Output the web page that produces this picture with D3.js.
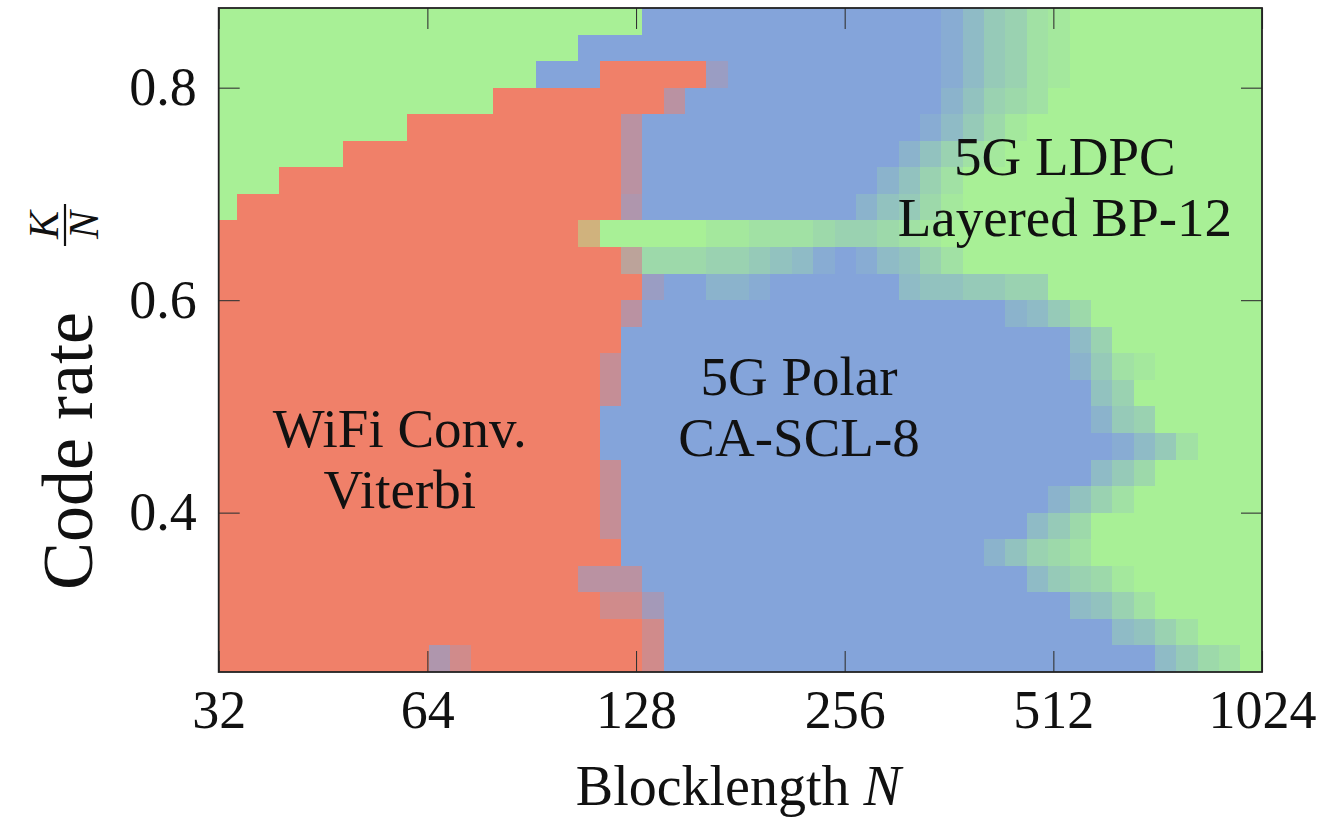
<!DOCTYPE html>
<html>
<head>
<meta charset="utf-8">
<script src="https://cdn.jsdelivr.net/npm/d3@7"></script>
<style>
  body { margin: 0; background: #ffffff; }
  text { font-family: "Liberation Serif", "Times New Roman", serif; fill: #111; }
</style>
</head>
<body>
<svg id="chart" width="1322" height="817"></svg>
<script>
// Blocklength N at the centre of each heatmap column (log-spaced)
const blocklengths = [
  32.8, 35.2, 37.7, 40.5, 43.5, 46.7, 50.1, 53.8, 57.8, 62.0,
  66.6, 71.5, 76.8, 82.4, 88.5, 95.0, 101.9, 109.4, 117.5, 126.1,
  135.4, 145.4, 156.1, 167.5, 179.9, 193.1, 207.3, 222.5, 238.9, 256.5,
  275.3, 295.6, 317.3, 340.7, 365.7, 392.6, 421.5, 452.5, 485.8, 521.5,
  559.8, 601.0, 645.2, 692.7, 743.6, 798.3, 857.0, 920.1, 987.7
];

// Code rate K/N at the centre of each heatmap row (top to bottom)
const codeRates = [
  0.8625, 0.8375, 0.8125, 0.7875, 0.7625, 0.7375, 0.7125, 0.6875, 0.6625,
  0.6375, 0.6125, 0.5875, 0.5625, 0.5375, 0.5125, 0.4875, 0.4625, 0.4375,
  0.4125, 0.3875, 0.3625, 0.3375, 0.3125, 0.2875, 0.2625
];

// Best decoder per (rate, blocklength) cell.
// R = WiFi Conv. Viterbi, B = 5G Polar CA-SCL-8, G = 5G LDPC Layered BP-12
// 1..9 = Polar/LDPC mixture (tenths of LDPC), a..i = Viterbi/Polar mixture (tenths of Polar)
// x = Viterbi/LDPC mixture, y = three-way mixture
const bestDecoder = [
  "GGGGGGGGGGGGGGGGGGGGBBBBBBBBBBBBBB135689GGGGGGGGG",
  "GGGGGGGGGGGGGGGGGBBBBBBBBBBBBBBBBB135689GGGGGGGGG",
  "GGGGGGGGGGGGGGGBBBRRRRRhBBBBBBBBBB135689GGGGGGGGG",
  "GGGGGGGGGGGGGRRRRRRRReBBBBBBBBBBBB24678GGGGGGGGGG",
  "GGGGGGGGGRRRRRRRRRReBBBBBBBBBBBBB13579GGGGGGGGGGG",
  "GGGGGGRRRRRRRRRRRRReBBBBBBBBBBBB24689GGGGGGGGGGGG",
  "GGGRRRRRRRRRRRRRRRReBBBBBBBBBBB2468GGGGGGGGGGGGGG",
  "GRRRRRRRRRRRRRRRRRRfBBBBBBBBBB24579GGGGGGGGGGGGGG",
  "RRRRRRRRRRRRRRRRRxGGGGG99888766789GGGGGGGGGGGGGGG",
  "RRRRRRRRRRRRRRRRRRRy777665431B13468GGGGGGGGGGGGGG",
  "RRRRRRRRRRRRRRRRRRRRhBB221BBBBBB3445566GGGGGGGGGG",
  "RRRRRRRRRRRRRRRRRRReBBBBBBBBBBBBBBBBB2357GGGGGGGG",
  "RRRRRRRRRRRRRRRRRRRBBBBBBBBBBBBBBBBBBBBB36GGGGGGG",
  "RRRRRRRRRRRRRRRRRRdBBBBBBBBBBBBBBBBBBBBB2589GGGGG",
  "RRRRRRRRRRRRRRRRRRdBBBBBBBBBBBBBBBBBBBBBB46GGGGGG",
  "RRRRRRRRRRRRRRRRRRBBBBBBBBBBBBBBBBBBBBBBB256GGGGG",
  "RRRRRRRRRRRRRRRRRRBBBBBBBBBBBBBBBBBBBBBBBB1358GGG",
  "RRRRRRRRRRRRRRRRRRdBBBBBBBBBBBBBBBBBBBBBB357GGGGG",
  "RRRRRRRRRRRRRRRRRRdBBBBBBBBBBBBBBBBBBBB2468GGGGGG",
  "RRRRRRRRRRRRRRRRRRdBBBBBBBBBBBBBBBBBBB357GGGGGGGG",
  "RRRRRRRRRRRRRRRRRRRBBBBBBBBBBBBBBBBB24678GGGGGGGG",
  "RRRRRRRRRRRRRRRRReeeBBBBBBBBBBBBBBBBBB35679GGGGGG",
  "RRRRRRRRRRRRRRRRRRccgBBBBBBBBBBBBBBBBBBB3468GGGGG",
  "RRRRRRRRRRRRRRRRRRRRcBBBBBBBBBBBBBBBBBBBBB3468GGG",
  "RRRRRRRRRRfcRRRRRRRRcBBBBBBBBBBBBBBBBBBBBBBB3578G"
];

const xTickValues = [32, 64, 128, 256, 512, 1024];
const yTickValues = [0.4, 0.6, 0.8];

// Region annotations: anchor in data space, lines of text
const regionLabels = [
  { lines: ["5G LDPC", "Layered BP-12"], n: 532, rate: 0.7175 },
  { lines: ["5G Polar", "CA-SCL-8"], n: 220, rate: 0.5105 },
  { lines: ["WiFi Conv.", "Viterbi"], n: 58.4, rate: 0.4615 }
];

const decoderColors = { R: "#f08069", B: "#84a4da", G: "#a8f096" };

function cellColor(code) {
  if (decoderColors[code]) return decoderColors[code];
  if (code >= "1" && code <= "9") {
    return d3.interpolateRgb(decoderColors.B, decoderColors.G)(+code / 10);
  }
  if (code >= "a" && code <= "i") {
    return d3.interpolateRgb(decoderColors.R, decoderColors.B)((code.charCodeAt(0) - 96) / 10);
  }
  if (code === "x") return d3.interpolateRgb(decoderColors.R, decoderColors.G)(0.45);
  // three-way blend
  const r = d3.rgb(decoderColors.R), b = d3.rgb(decoderColors.B), g = d3.rgb(decoderColors.G);
  const w = [0.45, 0.35, 0.2];
  return d3.rgb(r.r * w[0] + b.r * w[1] + g.r * w[2],
                r.g * w[0] + b.g * w[1] + g.g * w[2],
                r.b * w[0] + b.b * w[1] + g.b * w[2]).toString();
}

const svg = d3.select("#chart");
const margin = { left: 218.7, right: 1262, top: 8, bottom: 672 };

const x = d3.scaleLog().base(2).domain([32, 1024]).range([margin.left, margin.right]);
const y = d3.scaleLinear().domain([0.25, 0.875]).range([margin.bottom, margin.top]);

// Column edges: geometric midpoints between neighbouring blocklengths
const nEdges = [];
for (let i = 0; i <= blocklengths.length; i++) {
  if (i === 0) nEdges.push(blocklengths[0] * Math.sqrt(blocklengths[0] / blocklengths[1]));
  else if (i === blocklengths.length) {
    const m = blocklengths.length - 1;
    nEdges.push(blocklengths[m] * Math.sqrt(blocklengths[m] / blocklengths[m - 1]));
  } else nEdges.push(Math.sqrt(blocklengths[i - 1] * blocklengths[i]));
}
// Row edges: midpoints between neighbouring rates
const rEdges = [];
for (let j = 0; j <= codeRates.length; j++) {
  if (j === 0) rEdges.push(codeRates[0] + (codeRates[0] - codeRates[1]) / 2);
  else if (j === codeRates.length) {
    const m = codeRates.length - 1;
    rEdges.push(codeRates[m] - (codeRates[m - 1] - codeRates[m]) / 2);
  } else rEdges.push((codeRates[j - 1] + codeRates[j]) / 2);
}

svg.append("defs").append("clipPath").attr("id", "plot-clip")
  .append("rect")
  .attr("x", margin.left).attr("y", margin.top)
  .attr("width", margin.right - margin.left)
  .attr("height", margin.bottom - margin.top);

const cells = [];
bestDecoder.forEach((row, j) => {
  for (let i = 0; i < blocklengths.length; i++) {
    cells.push({ i, j, code: row[i] });
  }
});

const xEdgePx = i => Math.round(i === blocklengths.length ? Math.max(x(nEdges[i]), margin.right) : x(nEdges[i]));
const yEdgePx = j => Math.round(y(rEdges[j]));

svg.append("g").attr("clip-path", "url(#plot-clip)")
  .selectAll("rect")
  .data(cells)
  .join("rect")
  .attr("x", d => xEdgePx(d.i))
  .attr("y", d => yEdgePx(d.j))
  .attr("width", d => xEdgePx(d.i + 1) - xEdgePx(d.i))
  .attr("height", d => yEdgePx(d.j + 1) - yEdgePx(d.j))
  .attr("fill", d => cellColor(d.code))
  .attr("shape-rendering", "crispEdges");

// Region annotations
const labelSize = 55, lineGap = 61;
regionLabels.forEach(lab => {
  const t = svg.append("text")
    .attr("x", x(lab.n))
    .attr("y", y(lab.rate))
    .attr("text-anchor", "middle")
    .style("font-size", labelSize + "px");
  lab.lines.forEach((line, k) => {
    t.append("tspan").attr("x", x(lab.n)).attr("dy", k === 0 ? 0 : lineGap).text(line);
  });
});

// Axes with inward ticks on all four sides
const tickLen = 21, fontSize = 54;
const fmtN = d => String(d);
const styleAxis = g => {
  g.select(".domain").remove();
  g.selectAll(".tick line").attr("stroke", "#333").attr("stroke-width", 1.1);
  g.selectAll(".tick text").style("font-size", fontSize + "px").attr("fill", "#111")
    .style("font-family", "'Liberation Serif', 'Times New Roman', serif");
};

svg.append("g").attr("transform", `translate(0,${margin.bottom})`)
  .call(d3.axisBottom(x).tickValues(xTickValues).tickFormat(fmtN).tickSizeInner(-tickLen).tickSizeOuter(0).tickPadding(18))
  .call(styleAxis);
svg.append("g").attr("transform", `translate(0,${margin.top})`)
  .call(d3.axisTop(x).tickValues(xTickValues).tickFormat("").tickSizeInner(-tickLen).tickSizeOuter(0))
  .call(styleAxis);
svg.append("g").attr("transform", `translate(${margin.left},0)`)
  .call(d3.axisLeft(y).tickValues(yTickValues).tickFormat(d3.format(".1f")).tickSizeInner(-tickLen).tickSizeOuter(0).tickPadding(22))
  .call(styleAxis);
svg.append("g").attr("transform", `translate(${margin.right},0)`)
  .call(d3.axisRight(y).tickValues(yTickValues).tickFormat("").tickSizeInner(-tickLen).tickSizeOuter(0))
  .call(styleAxis);

// Plot frame
svg.append("rect")
  .attr("x", margin.left).attr("y", margin.top)
  .attr("width", margin.right - margin.left)
  .attr("height", margin.bottom - margin.top)
  .attr("fill", "none").attr("stroke", "#222").attr("stroke-width", 1.8);

// X axis title
const xt = svg.append("text")
  .attr("x", (margin.left + margin.right) / 2 - 2)
  .attr("y", 805)
  .attr("text-anchor", "middle")
  .style("font-size", "56px");
xt.append("tspan").text("Blocklength ");
xt.append("tspan").style("font-style", "italic").text("N");

// Y axis title with stacked fraction K/N (rotated, reading bottom to top)
const yt = svg.append("g").attr("transform", `translate(92, 590) rotate(-90)`);
yt.append("text").attr("x", 0).attr("y", 0).attr("text-anchor", "start")
  .style("font-size", "72px").text("Code rate");
const fracX = 365;
yt.append("text").attr("x", fracX).attr("y", -34).attr("text-anchor", "middle")
  .style("font-size", "42px").style("font-style", "italic").text("K");
yt.append("line").attr("x1", fracX - 21).attr("x2", fracX + 21).attr("y1", -27).attr("y2", -27)
  .attr("stroke", "#111").attr("stroke-width", 2.2);
yt.append("text").attr("x", fracX).attr("y", 6).attr("text-anchor", "middle")
  .style("font-size", "42px").style("font-style", "italic").text("N");
</script>
</body>
</html>
